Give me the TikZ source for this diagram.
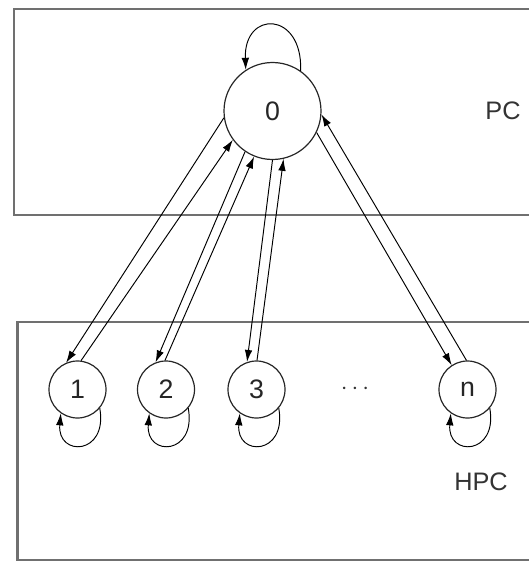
\documentclass[tikz,border=0pt]{standalone}
\usepackage{fontspec}
\setmainfont{Liberation Sans}
\usetikzlibrary{arrows.meta}
\definecolor{framegray}{RGB}{112,112,112}
\tikzstyle{hostbox} = [draw=framegray, line width=0.6mm]
\tikzstyle{bigproc} = [draw=black!85, circle, line width=0.3mm, inner sep=0pt,
    minimum size=24.25mm, font=\fontsize{19}{21}\selectfont, text=black!85]
\tikzstyle{smallproc} = [draw=black!85, circle, line width=0.3mm, inner sep=0pt,
    minimum size=14.25mm, font=\fontsize{19}{21}\selectfont, text=black!85]
\tikzstyle{hostlabel} = [font=\fontsize{18}{20}\selectfont, text=black!80]
\tikzstyle{msg} = [-{Latex[length=3mm,width=1.9mm]}, line width=0.24mm]

\begin{document}
\begin{tikzpicture}[x=0.25mm, y=-0.25mm]
                \useasboundingbox (0,0) rectangle (529,561);
                \clip (0,0) rectangle (529,561);
                \draw[hostbox] (14,9) rectangle (530.5,215);
                \draw[hostbox] (17.5,322) rectangle (530.5,560);
                \node[hostlabel] (pc) at (503,111) {PC};
                \node[hostlabel] (hpc) at (481,482) {HPC};
                \node[bigproc] (p0) at (272.5,111) {0};
                \node[smallproc] (p1) at (77.5,389.5) {1};
                \node[smallproc] (p2) at (166,389.5) {2};
                \node[smallproc] (p3) at (256.5,389.5) {3};
                \node[smallproc] (pn) at (467.5,389.5) {n};
                \node[hostlabel] (dots) at (355,389) {$\cdots$};
                \draw[msg] (p0.188) -- (p1.113);
                \draw[msg] (p1.83) -- (p0.216);
                \draw[msg] (p0.236) -- (p2.111);
                \draw[msg] (p2.92) -- (p0.248);
                \draw[msg] (p0.270) -- (p3.109);
                \draw[msg] (p3.89) -- (p0.283);
                \draw[msg] (p0.334) -- (pn.123);
                \draw[msg] (pn.92) -- (p0.356);
                \draw[msg] (p0.55) .. controls +(88:15mm) and +(92:15mm) .. (p0.123);
                \foreach \p in {p1,p2,p3,pn}
                    \draw[msg] (\p.-40) .. controls +(-80:12mm) and +(-95:11mm) .. (\p.-125);
            \end{tikzpicture}
\end{document}
